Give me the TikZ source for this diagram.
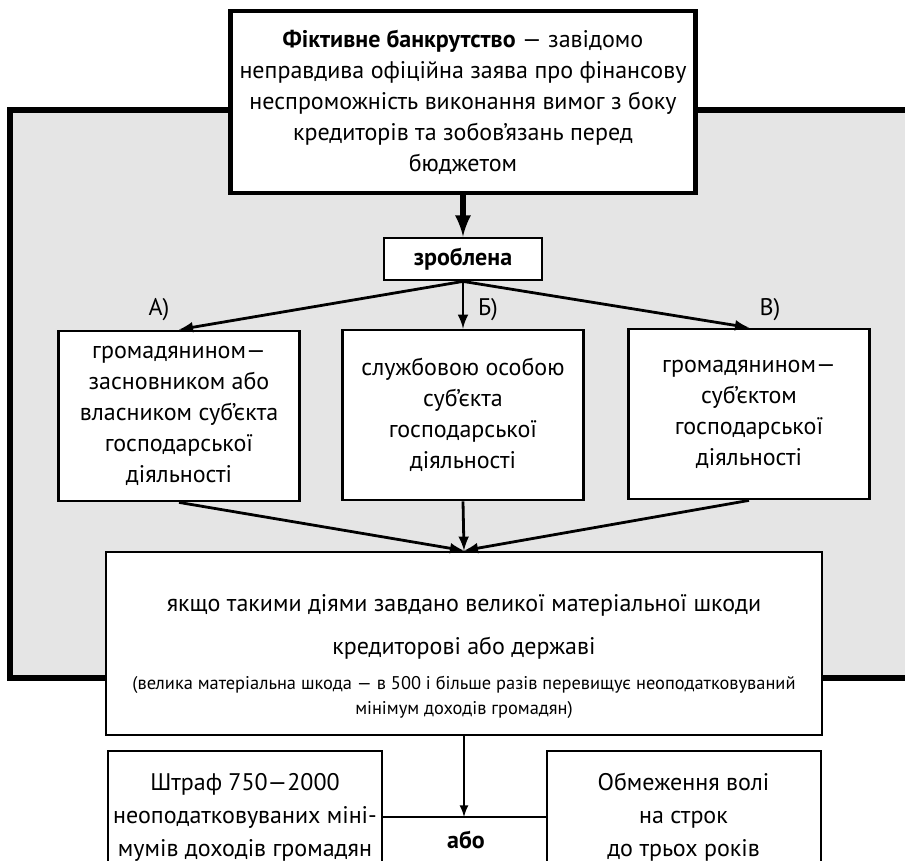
\documentclass[tikz,border=0pt]{standalone}
\usepackage{fontspec}
\setmainfont{PT Sans}
\newcommand{\dribnyi}{\fontsize{9.2}{12}\selectfont}
\begin{document}
\begin{tikzpicture}[x=0.5pt, y=-0.5pt, >=latex,
    font=\fontsize{12}{15.5}\selectfont,
    golovna/.style={draw, line width=2.4pt, fill=white, align=center, inner sep=0pt,
        minimum width=232.5pt, minimum height=91pt},
    maloblok/.style={draw, line width=1.4pt, fill=white, inner sep=0pt,
        minimum width=79pt, minimum height=21pt, font=\fontsize{12}{15.5}\selectfont\bfseries},
    subjekt/.style={draw, line width=1.4pt, fill=white, align=center, inner sep=0pt,
        minimum width=120.5pt, minimum height=85pt},
    umovablok/.style={draw, line width=1.4pt, fill=white, align=center, inner sep=0pt,
        minimum width=358pt, minimum height=91.5pt},
    karablok/.style={draw, line width=1pt, fill=white, align=center, inner sep=0pt,
        minimum width=137pt, minimum height=66pt, font=\fontsize{12}{16.5}\selectfont},
    strilka/.style={->, line width=1.4pt}]
    \useasboundingbox (0,0) rectangle (905,861);
    \clip (0,0) rectangle (905,861);

    % Сіре тло з рамкою
    \fill[black!10] (10,110) rectangle (905,678);
    \draw[line width=2.6pt] (905,110) -- (10,110) -- (10,678) -- (905,678);

    % Означення
    \node[golovna] (fiktyvne) at (463,102) {\textbf{Фіктивне банкрутство} — завідомо\\
        неправдива офіційна заява про фінансову\\
        неспроможність виконання вимог з боку\\
        кредиторів та зобов’язань перед\\
        бюджетом};
    \node[maloblok] (zroblena) at (463,259) {зроблена};

    % Хто вчинив
    \node[subjekt] (subA) at (179,416) {громадянином—\\ засновником або\\ власником суб’єкта\\ господарської\\ діяльності};
    \node[subjekt] (subB) at (463,415) {службовою особою\\ суб’єкта\\ господарської\\ діяльності};
    \node[subjekt] (subV) at (749,414) {громадянином—\\ суб’єктом\\ господарської\\ діяльності};
    \node (mitkaA) at (159,310) {А)};
    \node (mitkaB) at (488,310) {Б)};
    \node (mitkaV) at (770,310) {В)};

    % Наслідки
    \node[umovablok] (umova) at (464,643.5) {\rule{0pt}{22pt}якщо такими діями завдано великої матеріальної шкоди\\[6pt]
        кредиторові або державі\\[2pt]
        \dribnyi (велика матеріальна шкода — в 500 і більше разів перевищує неоподатковуваний\\[-3pt]
        \dribnyi мінімум доходів громадян)};

    % Покарання
    \node[karablok] (shtraf) at (245,817) {Штраф 750—2000\\ неоподатковуваних міні-\\ мумів доходів громадян};
    \node[karablok] (obmezh) at (683.5,817) {Обмеження волі\\ на строк\\ до трьох років};
    \node[font=\fontsize{12}{16}\selectfont\bfseries] (abo) at (466,840) {або};

    % Стрілки
    \draw[->, line width=2.6pt] (fiktyvne) -- (zroblena);
    \draw[strilka] (zroblena.south) -- (subA.north);
    \draw[strilka] (zroblena.south) -- (subB.north);
    \draw[strilka] (zroblena.south) -- (subV.north);
    \draw[strilka] (subA.south) -- (umova.north);
    \draw[strilka] (subB.south) -- (umova.north);
    \draw[strilka] (subV.south) -- (umova.north);
    \draw[line width=1pt] (shtraf.east) -- (obmezh.west);
    \draw[->, line width=1pt] (umova.south) -- (umova.south |- shtraf.east);
\end{tikzpicture}
\end{document}
